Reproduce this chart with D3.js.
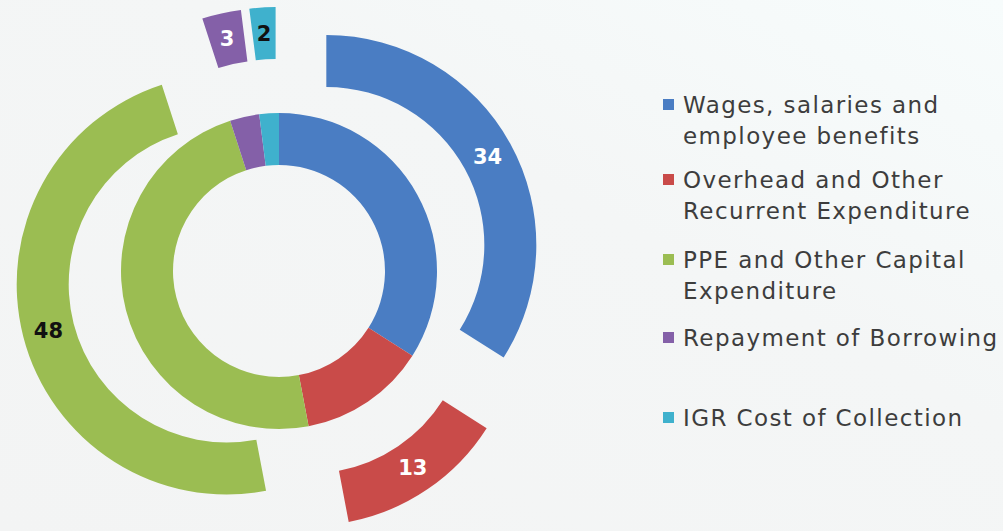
<!DOCTYPE html>
<html><head><meta charset="utf-8">
<script src="https://cdn.jsdelivr.net/npm/d3@7"></script>
<style>html,body{margin:0;padding:0;background:#f5f6f6;}svg{display:block;}</style>
</head><body>
<svg id="chart" width="1003" height="531"></svg>
<script>
const categories = ["Wages, salaries and employee benefits","Overhead and Other Recurrent Expenditure","PPE and Other Capital Expenditure","Repayment of Borrowing","IGR Cost of Collection"];
const legendLines = [["Wages, salaries and","employee benefits"],["Overhead and Other","Recurrent Expenditure"],["PPE and Other Capital","Expenditure"],["Repayment of Borrowing"],["IGR Cost of Collection"]];
const values = [34, 13, 48, 3, 2];
const colors = ["#4a7dc3", "#c94b49", "#9bbd52", "#8460a8", "#3fb1cd"];
const labelColors = ["#ffffff", "#ffffff", "#111111", "#ffffff", "#111111"];

const svg = d3.select("#chart");
const defs = svg.append("defs");
const grad = defs.append("linearGradient").attr("id","bg").attr("x1","0").attr("y1","1").attr("x2","1").attr("y2","0");
grad.append("stop").attr("offset","0").attr("stop-color","#f3f4f4");
grad.append("stop").attr("offset","0.6").attr("stop-color","#f4f6f6");
grad.append("stop").attr("offset","1").attr("stop-color","#f7fcfc");
svg.append("rect").attr("width",1003).attr("height",531).attr("fill","url(#bg)");

const cx = 279, cy = 271;
const pie = d3.pie().sort(null).value(d => d)(values);
const innerArc = d3.arc().innerRadius(106).outerRadius(158);
const outerArc = d3.arc().innerRadius(158).outerRadius(210);
const explode = 54;

const g = svg.append("g").attr("transform", `translate(${cx},${cy})`);
g.selectAll("path.inner").data(pie).join("path").attr("class","inner")
  .attr("d", innerArc).attr("fill", (d,i) => colors[i]);

const outer = g.selectAll("g.outer").data(pie).join("g").attr("class","outer")
  .attr("transform", d => {
    const a = (d.startAngle + d.endAngle) / 2;
    return `translate(${Math.sin(a)*explode},${-Math.cos(a)*explode})`;
  });
outer.append("path").attr("d", outerArc).attr("fill", (d,i) => colors[i]);
outer.append("text")
  .attr("transform", d => `translate(${outerArc.centroid(d)})`)
  .attr("text-anchor","middle").attr("dy","0.36em")
  .attr("font-family","'DejaVu Sans', sans-serif").attr("font-weight","bold").attr("font-size",21)
  .attr("fill", (d,i) => labelColors[i])
  .text((d,i) => values[i]);

// legend
const legendY = [105, 180, 260, 338, 418];
const lg = svg.append("g");
legendLines.forEach((lines, i) => {
  lg.append("rect").attr("x", 663).attr("y", legendY[i] - 6).attr("width", 11).attr("height", 11).attr("fill", colors[i]);
  lines.forEach((t, j) => {
    lg.append("text").attr("x", 683).attr("y", legendY[i] + j*31).attr("dy","0.35em")
      .attr("font-family","'DejaVu Sans', sans-serif").attr("font-size",23).attr("letter-spacing","1.4px").attr("fill","#3d3d3d")
      .text(t);
  });
});
</script>
</body></html>
